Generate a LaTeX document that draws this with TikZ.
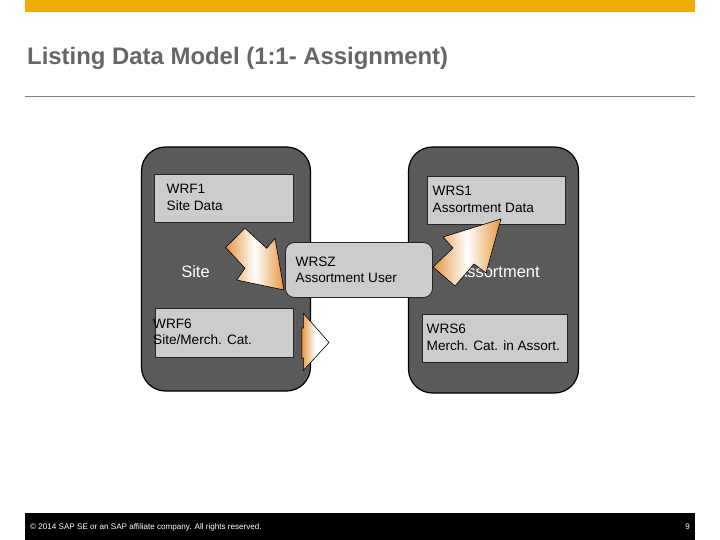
\documentclass[tikz,border=0pt]{standalone}
\usepackage{fontspec}
\setmainfont{Liberation Sans}
\definecolor{sapgold}{HTML}{F0AB00}
\definecolor{titlegray}{HTML}{666666}
\definecolor{rulegray}{HTML}{808080}
\definecolor{darkfill}{HTML}{5A5A5A}
\definecolor{lightfill}{HTML}{CCCCCC}
\definecolor{arroworange}{RGB}{232,150,60}
\tikzset{
  groupbox/.style={draw=black, line width=1.2pt, fill=darkfill, rounded corners=24pt, inner sep=0pt},
  tablebox/.style={draw=black!85, line width=0.8pt, fill=lightfill, inner sep=0pt},
  userbox/.style={draw=black!85, line width=0.8pt, fill=lightfill, rounded corners=9pt, inner sep=0pt},
  label/.style={anchor=base west, inner sep=0pt, font=\fontsize{13.6}{16}\selectfont, text=black},
  grouplabel/.style={anchor=base, inner sep=0pt, font=\fontsize{16.5}{19}\selectfont, text=white},
  blockarrow/.style={draw=black, line width=0.6pt, left color=arroworange, right color=arroworange, middle color=white},
  halfarrow/.style={draw=black, line width=0.6pt, left color=arroworange, right color=white, middle color=white}
}
\begin{document}
\begin{tikzpicture}[x=1pt,y=-1pt]
\useasboundingbox (0,0) rectangle (720,540);
\fill[white] (0,0) rectangle (720,540);
% header
\fill[sapgold] (25,0) rectangle (695,12.5);
\node[anchor=base west, inner sep=0pt, text=titlegray, font=\bfseries\fontsize{23.9}{28}\selectfont] (title) at (27,64.5) {Listing Data Model (1:1- Assignment)};
\draw[rulegray, line width=1pt] (25,97) -- (695,97);
% footer
\fill[black] (25,513) rectangle (695,540);
\node[anchor=base west, inner sep=0pt, text=white, font=\fontsize{8.1}{10}\selectfont] (copy) at (30,529.5) {© 2014 SAP SE or an SAP affiliate company. All rights reserved.};
\node[anchor=base east, inner sep=0pt, text=white, font=\fontsize{8}{10}\selectfont] (page) at (690,529.5) {9};
% group boxes
\node[groupbox, minimum width=169pt, minimum height=244pt] (site) at (226,269) {};
\node[groupbox, minimum width=170pt, minimum height=246pt] (assort) at (493.5,270) {};
% table boxes
\node[tablebox, minimum width=139pt, minimum height=48pt] (wrf1) at (223.5,198) {};
\node[tablebox, minimum width=138pt, minimum height=48pt] (wrs1) at (496,200) {};
\node[tablebox, minimum width=138pt, minimum height=49pt] (wrf6) at (224,332.5) {};
\node[tablebox, minimum width=145pt, minimum height=48pt] (wrs6) at (494.5,338) {};
% texts
\node[label] (wrf1a) at (166.5,194) {WRF1};
\node[label] (wrf1b) at (166.5,210.5) {Site Data};
\node[label] (wrs1a) at (432.5,195.5) {WRS1};
\node[label] (wrs1b) at (432.5,212) {Assortment Data};
\node[label] (wrf6a) at (153,328) {WRF6};
\node[label] (wrf6b) at (153,344.5) {Site/Merch. Cat.};
\node[label] (wrs6a) at (426.5,333.5) {WRS6};
\node[label] (wrs6b) at (426.5,350) {Merch. Cat. in Assort.};
\node[grouplabel] (sitelbl) at (195.5,277.5) {Site};
\node[grouplabel] (assortlbl) at (498,277.5) {Assortment};
% user box
\node[userbox, minimum width=147pt, minimum height=55pt] (wrsz) at (359,270) {};
\node[label] (wrsza) at (295.5,266) {WRSZ};
\node[label] (wrszb) at (295.5,282.5) {Assortment User};
% arrows
\coordinate (a1tip) at (284,290);
\draw[blockarrow] (225.7,247.3) -- (245,228.3) -- (266.7,248.3) -- (275,238.3) -- (a1tip) -- (236.7,280) -- (245,268.3) -- cycle;
\coordinate (a2tip) at (501,219);
\draw[blockarrow] (433,267) -- (453,248) -- (443,237) -- (a2tip) -- (486,273) -- (474,264) -- (455,286) -- cycle;
\coordinate (a3tip) at (329,342.5);
\draw[halfarrow] (303.3,313.3) -- (a3tip) -- (303.3,370.5) -- (303.3,358) -- (301.7,358) -- (301.7,328) -- (303.3,328) -- cycle;
\end{tikzpicture}
\end{document}
